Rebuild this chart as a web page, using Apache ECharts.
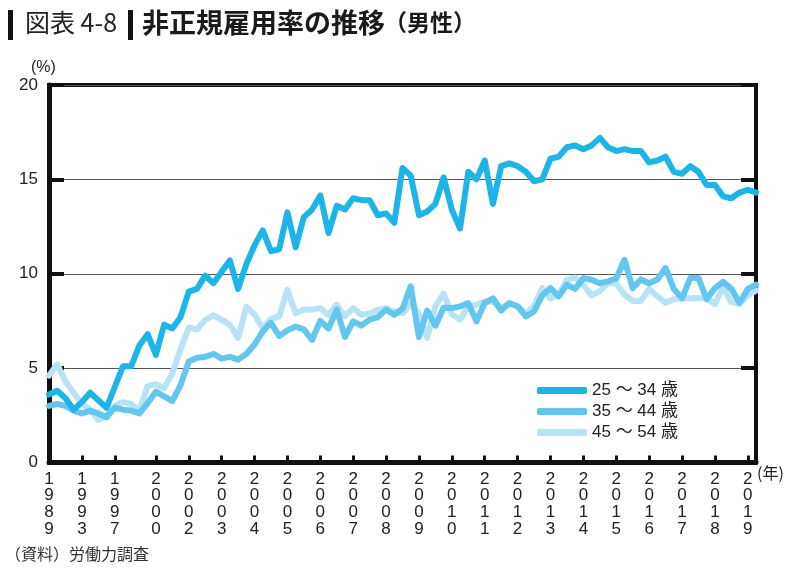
<!DOCTYPE html>
<html><head><meta charset="utf-8">
<script src="https://cdn.jsdelivr.net/npm/echarts@6/dist/echarts.min.js"></script>
<style>html,body{margin:0;padding:0;background:#fff;} #c{width:800px;height:575px;}</style>
</head><body><div id="c"></div>
<script>
// x-axis: 87 observation points; year labels sit at these point indices
const pointCount = 87;
const tickIndex = [0,4,8,13,17,21,25,29,33,37,41,45,49,53,57,61,65,69,73,77,81,85];
const tickYears = ['1989','1993','1997','2000','2002','2003','2004','2005','2006','2007','2008','2009','2010','2011','2012','2013','2014','2015','2016','2017','2018','2019'];
const seriesNames = ['25 ～ 34 歳','35 ～ 44 歳','45 ～ 54 歳'];
const seriesColors = ['#1db4e8','#62c6ee','#b8e2f6'];

const age25_34 = [3.6,3.8,3.4,2.8,3.2,3.7,3.3,2.9,4.0,5.1,5.1,6.2,6.8,5.7,7.3,7.1,7.7,9.05,9.2,9.9,9.5,10.1,10.7,9.2,10.5,11.5,12.3,11.2,11.3,13.25,11.4,13.0,13.4,14.15,12.15,13.6,13.4,14.0,13.9,13.9,13.1,13.2,12.7,15.6,15.2,13.1,13.3,13.7,15.1,13.4,12.4,15.4,15.0,16.0,13.7,15.7,15.85,15.7,15.4,14.9,15.0,16.1,16.2,16.7,16.8,16.6,16.8,17.2,16.7,16.5,16.6,16.5,16.5,15.9,16.0,16.2,15.4,15.3,15.7,15.4,14.7,14.7,14.1,14.0,14.3,14.45,14.3];
const age35_44 = [3.0,3.1,3.0,2.75,2.6,2.75,2.6,2.4,2.9,2.8,2.75,2.6,3.15,3.75,3.5,3.25,4.1,5.35,5.55,5.6,5.75,5.5,5.6,5.45,5.75,6.25,6.95,7.4,6.7,7.0,7.2,7.05,6.5,7.5,7.1,8.1,6.65,7.48,7.25,7.57,7.7,8.1,7.83,8.15,9.33,6.65,8.05,7.25,8.2,8.18,8.27,8.45,7.48,8.45,8.7,8.05,8.45,8.27,7.74,8.0,8.85,9.24,8.8,9.42,9.2,9.77,9.68,9.5,9.6,9.75,10.74,9.24,9.7,9.5,9.7,10.3,9.2,8.7,9.77,9.77,8.65,9.24,9.57,9.2,8.45,9.2,9.42];
const age45_54 = [4.6,5.2,4.3,3.7,3.1,2.8,2.25,2.5,3.0,3.2,3.1,2.75,4.05,4.15,3.95,4.7,6.0,7.15,7.05,7.55,7.8,7.57,7.3,6.6,8.25,7.83,7.1,7.6,7.74,9.15,7.9,8.1,8.1,8.18,7.8,8.36,7.75,8.18,7.83,7.9,8.1,8.18,8.0,7.9,8.4,7.9,6.6,8.3,8.95,7.85,7.57,8.27,8.36,8.53,8.5,8.2,8.4,8.3,7.9,8.3,9.24,8.7,8.9,9.68,9.8,9.4,8.85,9.08,9.5,9.5,8.9,8.56,8.56,9.2,8.8,8.47,8.65,8.7,8.7,8.7,8.7,8.4,9.3,8.5,8.4,8.85,9.1];

const categories = [];
for (let i = 0; i < pointCount; i++) categories.push('p' + i);
const tickSet = new Set(tickIndex);

const NUM_FONT = '"Liberation Sans", Arial, "Noto Sans CJK JP", sans-serif';
const JP_FONT = '"Noto Sans CJK JP", sans-serif';

const chart = echarts.init(document.getElementById('c'), null, {renderer: 'canvas'});
const allData = [age25_34, age35_44, age45_54];
const zs = [5, 4, 3];
chart.setOption({
  animation: false,
  backgroundColor: '#ffffff',
  grid: {left: 49, right: 44, top: 85, bottom: 112.5, show: true, borderColor: '#111', borderWidth: 4, backgroundColor: 'transparent'},
  xAxis: {
    type: 'category', data: categories, boundaryGap: false,
    axisLine: {show: true, lineStyle: {color: '#111', width: 5}},
    axisTick: {show: true, inside: true, length: 7, lineStyle: {color: '#111', width: 3}, interval: (i) => tickSet.has(i)},
    axisLabel: {show: true, interval: (i) => tickSet.has(i), margin: 8, color: '#222', fontSize: 17, lineHeight: 16.7, fontFamily: NUM_FONT,
      formatter: (v, i) => { const k = tickIndex.indexOf(i); return k < 0 ? '' : tickYears[k].split('').join('\n'); }},
    splitLine: {show: false}
  },
  yAxis: [{
    type: 'value', min: 0, max: 20, interval: 5, position: 'left',
    axisLine: {show: true, lineStyle: {color: '#111', width: 5}},
    axisTick: {show: true, inside: true, length: 15, lineStyle: {color: '#111', width: 4}},
    axisLabel: {color: '#222', fontSize: 17, margin: 11, fontFamily: NUM_FONT},
    splitLine: {show: true, lineStyle: {color: '#555', width: 1}}
  }, {
    type: 'value', min: 0, max: 20, interval: 5, position: 'right',
    axisLine: {show: true, lineStyle: {color: '#111', width: 4}},
    axisTick: {show: true, inside: true, length: 15, lineStyle: {color: '#111', width: 4}},
    axisLabel: {show: false}, splitLine: {show: false}
  }],
  legend: {
    orient: 'vertical', left: 537, top: 382, padding: 0, itemGap: 4,
    itemWidth: 50, itemHeight: 7, icon: 'roundRect',
    textStyle: {color: '#222', fontSize: 17, lineHeight: 17, fontFamily: NUM_FONT},
    data: seriesNames
  },
  series: seriesNames.map((n, i) => ({
    name: n, type: 'line', data: allData[i], yAxisIndex: 0, symbol: 'none', z: zs[i],
    lineStyle: {width: 6, color: seriesColors[i], cap: 'round', join: 'round'},
    itemStyle: {color: seriesColors[i]}
  })),
  graphic: [
    {type: 'rect', left: 8, top: 10, shape: {width: 5, height: 30}, style: {fill: '#111'}},
    {type: 'text', left: 25, top: 10, style: {text: '図表 4-8', fill: '#222', font: '25px ' + JP_FONT}},
    {type: 'rect', left: 128, top: 10, shape: {width: 5, height: 30}, style: {fill: '#111'}},
    {type: 'text', left: 142, top: 9, style: {text: '非正規雇用率の推移', fill: '#1a1a1a', font: 'bold 27px ' + JP_FONT}},
    {type: 'text', left: 384, top: 11, style: {text: '（男性）', fill: '#1a1a1a', font: 'bold 23px ' + JP_FONT}},
    {type: 'text', left: 31, top: 60, style: {text: '(%)', fill: '#222', font: '16px ' + NUM_FONT}},
    {type: 'text', left: 757, top: 465, style: {text: '(年)', fill: '#222', font: '16px ' + JP_FONT}},
    {type: 'text', left: 5, top: 546, style: {text: '（資料）労働力調査', fill: '#333', font: '16px ' + JP_FONT}}
  ]
});
</script></body></html>
